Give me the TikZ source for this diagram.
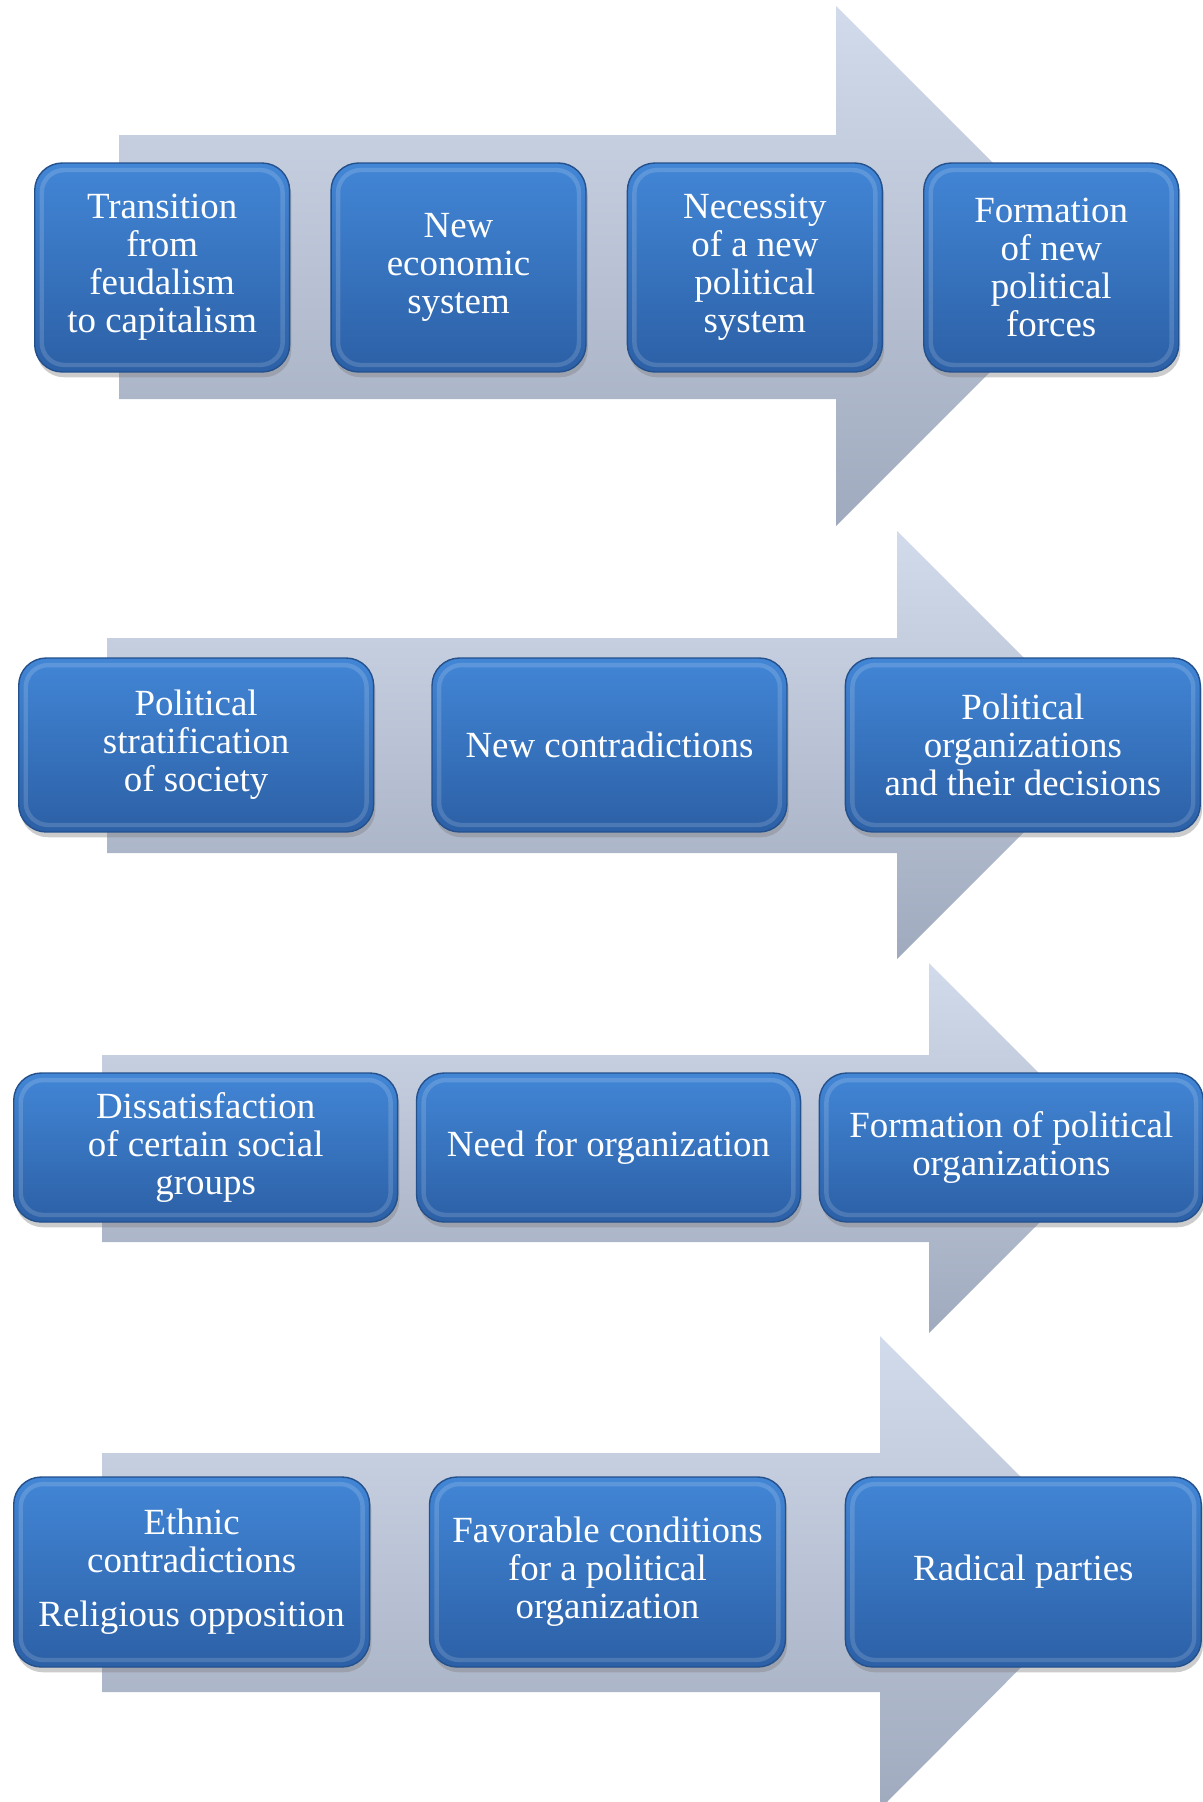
\documentclass[tikz,border=0pt]{standalone}
\usepackage{fontspec}
\setmainfont{Liberation Serif}
\usetikzlibrary{positioning,shadows}
\definecolor{boxtop}{RGB}{66,134,214}
\definecolor{boxbottom}{RGB}{44,96,166}
\definecolor{boxedge}{RGB}{36,80,140}
\definecolor{arrowtop}{RGB}{210,219,235}
\definecolor{arrowbottom}{RGB}{160,170,190}
\tikzset{
  stagebox/.style={draw=boxedge,line width=0.8pt,rounded corners=0.55cm,
    top color=boxtop,bottom color=boxbottom,text=white,align=center,
    font=\fontsize{21}{21.6}\selectfont,inner sep=4pt,
    drop shadow={opacity=0.4,shadow xshift=1pt,shadow yshift=-3pt},
    path picture={\draw[white,opacity=0.15,line width=2.5pt,rounded corners=0.45cm]
      ([shift={(4pt,-4pt)}]path picture bounding box.north west) rectangle
      ([shift={(-4pt,4pt)}]path picture bounding box.south east);}},
  rowone/.style={stagebox,minimum width=5.1cm,minimum height=4.18cm},
  rowtwo/.style={stagebox,minimum width=7.1cm,minimum height=3.48cm},
  rowthree/.style={stagebox,minimum width=7.68cm,minimum height=2.98cm},
  rowfour/.style={stagebox,minimum width=7.12cm,minimum height=3.8cm},
  bigarrow/.style={top color=arrowtop,bottom color=arrowbottom,draw=none},
}

\begin{document}
\begin{tikzpicture}[x=0.02cm,y=-0.02cm]
  \useasboundingbox (0,0) rectangle (1203,1802);
  \clip (0,0) rectangle (1203,1802);

  % background arrows
  \path[bigarrow] (119,135) -- (836,135) -- (836,6) -- (1096,266)
    -- (836,526) -- (836,399) -- (119,399) -- cycle;
  \path[bigarrow] (107,638) -- (897,638) -- (897,531) -- (1111,745)
    -- (897,959) -- (897,853) -- (107,853) -- cycle;
  \path[bigarrow] (102,1055) -- (929,1055) -- (929,963) -- (1114,1148)
    -- (929,1333) -- (929,1242) -- (102,1242) -- cycle;
  \path[bigarrow] (102,1453) -- (880,1453) -- (880,1336) -- (1116,1572)
    -- (880,1809) -- (880,1692) -- (102,1692) -- cycle;

  % first row
  \node[rowone,anchor=west] (feudal) at (34,267.5)
    {Transition\\from\\feudalism\\to capitalism};
  \node[rowone,right=0.8cm of feudal] (economy) {New\\economic\\system};
  \node[rowone,right=0.8cm of economy] (necessity)
    {Necessity\\of a new\\political\\system};
  \node[rowone,right=0.8cm of necessity] (forces)
    {Formation\\of new\\political\\forces};

  % second row
  \node[rowtwo,anchor=west] (strat) at (18,745)
    {Political\\stratification\\of society};
  \node[rowtwo,right=1.14cm of strat] (contra) {New contradictions};
  \node[rowtwo,right=1.14cm of contra] (decisions)
    {Political\\organizations\\and their decisions};

  % third row
  \node[rowthree,anchor=west] (dissat) at (13,1147.5)
    {Dissatisfaction\\of certain social\\groups};
  \node[rowthree,right=0.35cm of dissat] (need) {Need for organization};
  \node[rowthree,right=0.35cm of need] (formorg)
    {Formation of political\\organizations};

  % fourth row
  \node[rowfour,anchor=west] (ethnic) at (13,1572)
    {Ethnic\\contradictions\\[9pt]Religious opposition};
  \node[rowfour,right=1.17cm of ethnic] (favor)
    {Favorable conditions\\for a political\\organization};
  \node[rowfour,right=1.17cm of favor] (radical) {Radical parties};
\end{tikzpicture}
\end{document}
